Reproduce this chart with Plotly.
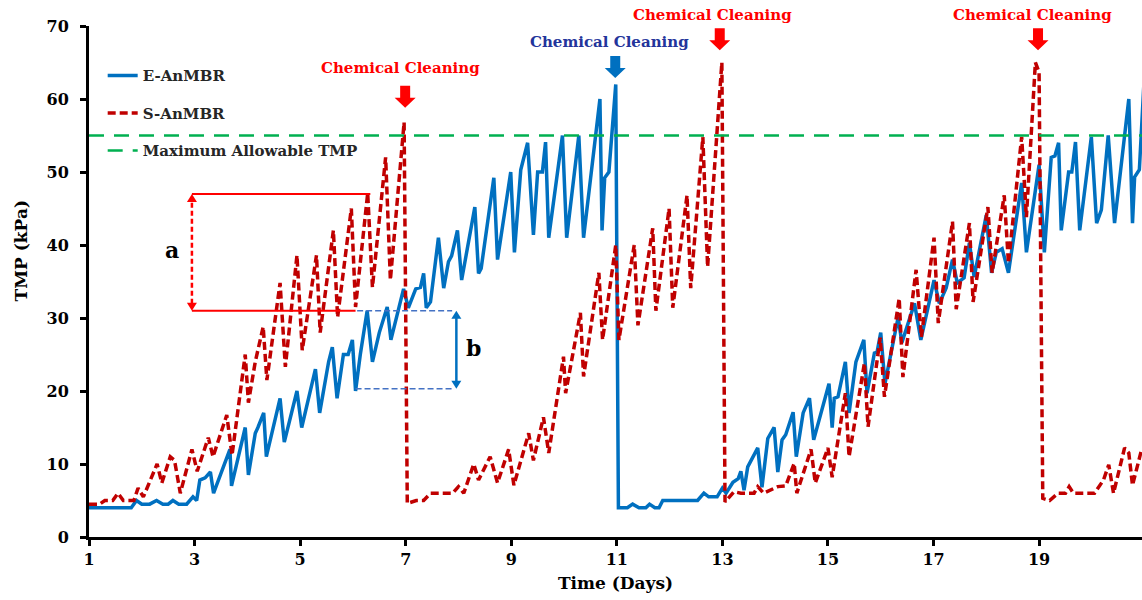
import plotly.graph_objects as go

# ---- TMP records (day, kPa) ----
e_days = [1.0, 1.8, 1.9, 2.0, 2.15, 2.28, 2.4, 2.5, 2.59, 2.7, 2.85, 2.97, 3.04, 3.1, 3.2, 3.3, 3.36,
          3.67, 3.7, 3.96, 4.02, 4.15, 4.2, 4.31, 4.36, 4.62, 4.7, 4.85, 4.94, 5.03, 5.29, 5.37, 5.54,
          5.61, 5.7, 5.82, 5.91, 5.99, 6.05, 6.14, 6.27, 6.37, 6.5, 6.65, 6.72, 6.96, 7.05, 7.19, 7.28,
          7.34, 7.39, 7.47, 7.62, 7.72, 7.81, 7.87, 7.98, 8.06, 8.31, 8.38, 8.43, 8.67, 8.74, 8.99, 9.06,
          9.18, 9.31, 9.42, 9.5, 9.59, 9.65, 9.71, 9.97, 10.05, 10.28, 10.37, 10.68, 10.72, 10.77, 10.85,
          10.98, 11.03, 11.2, 11.3, 11.42, 11.55, 11.62, 11.72, 11.8, 11.87, 12.53, 12.65, 12.74, 12.9,
          13.0, 13.07, 13.2, 13.3, 13.35, 13.41, 13.48, 13.67, 13.75, 13.86, 13.98, 14.05, 14.13, 14.2,
          14.34, 14.4, 14.53, 14.65, 14.73, 15.02, 15.08, 15.12, 15.19, 15.33, 15.4, 15.53, 15.68, 15.74,
          15.88, 15.93, 16.0, 16.08, 16.33, 16.4, 16.64, 16.76, 17.01, 17.11, 17.24, 17.36, 17.45, 17.58,
          17.68, 17.77, 18.0, 18.1, 18.19, 18.3, 18.42, 18.67, 18.76, 19.0, 19.1, 19.23, 19.3, 19.37,
          19.42, 19.56, 19.62, 19.69, 19.77, 19.99, 20.09, 20.18, 20.31, 20.43, 20.7, 20.77, 20.81, 20.9,
          21.0]
e_tmp = [4, 4, 5, 4.5, 4.5, 5, 4.5, 4.5, 5, 4.5, 4.5, 5.5, 5, 7.8, 8.1, 8.9, 6,
         12, 7, 15, 8.5, 14.2, 15, 17, 11, 19, 13, 17.5, 20, 15, 23, 17, 24,
         26, 19, 25, 25, 27, 20, 25, 31, 24, 28, 31.5, 27, 34, 31.4, 34, 34.2,
         36.1, 31.4, 32.2, 41, 34.1, 37.7, 38.5, 42, 35.2, 45.2, 36.1, 36.8, 49.2, 38, 50, 39,
         50.3, 54, 41.4, 50, 50, 54.1, 41, 55, 41, 55, 41, 60, 42, 49.2, 50,
         62, 4, 4, 4.5, 4, 4, 4.5, 4, 4, 5, 5, 6, 5.5, 5.5,
         6.7, 6, 7.5, 8, 9, 6.4, 9.6, 12.2, 6.8, 13.5, 15, 8.9, 13.3, 14,
         17.1, 11, 17, 19, 13.3, 21, 15, 19, 19.2, 24, 17, 24, 27, 19.7,
         25.2, 25.3, 28, 21, 30.1, 26.6, 32, 27, 35.2, 32, 34.1, 38, 34.8, 35.5,
         40.3, 35.6, 44.1, 36.2, 39, 39.5, 36.2, 48.5, 39, 51, 39, 52, 52.2, 54,
         42, 50, 50, 54.1, 42, 54.8, 43, 44.8, 55, 43, 60, 43, 49.3, 50.3,
         64]

s_days = [1.0, 1.2, 1.3, 1.45, 1.55, 1.65, 1.85, 1.93, 2.03, 2.29, 2.38, 2.54, 2.62, 2.73, 2.95, 3.05,
          3.26, 3.35, 3.61, 3.71, 3.96, 4.02, 4.15, 4.3, 4.37, 4.62, 4.72, 4.94, 5.04, 5.31, 5.38, 5.63,
          5.71, 5.97, 6.05, 6.28, 6.37, 6.62, 6.71, 6.97, 7.03, 7.2, 7.34, 7.47, 7.89, 8.0, 8.1, 8.29,
          8.38, 8.6, 8.74, 8.95, 9.05, 9.33, 9.42, 9.61, 9.71, 9.99, 10.03, 10.31, 10.37, 10.66, 10.73,
          10.98, 11.04, 11.33, 11.4, 11.68, 11.74, 11.99, 12.06, 12.33, 12.4, 12.63, 12.72, 12.99, 13.05,
          13.22, 13.35, 13.6, 13.67, 13.78, 14.05, 14.2, 14.36, 14.41, 14.68, 14.76, 15.0, 15.08, 15.33,
          15.4, 15.69, 15.76, 15.99, 16.07, 16.35, 16.42, 16.67, 16.77, 17.01, 17.09, 17.36, 17.43, 17.68,
          17.75, 18.03, 18.11, 18.34, 18.42, 18.67, 18.76, 18.93, 19.0, 19.07, 19.2, 19.36, 19.5, 19.57,
          19.65, 19.9, 20.05, 20.22, 20.32, 20.41, 20.62, 20.7, 20.77, 20.94]
s_tmp = [4.5, 4.5, 5, 5, 6, 5, 5, 6.7, 5.5, 10, 7.4, 11, 10.5, 6, 12, 9,
         13.6, 11, 16.7, 11.2, 25, 18.4, 24, 28.8, 21.5, 34.8, 23.3, 38.6, 25.6, 38.6, 28, 42,
         30.1, 45, 31.5, 47.1, 34.2, 52, 35.2, 56.8, 4.6, 5, 5, 6, 6, 6.9, 6, 10,
         7.8, 11, 7.4, 12, 7.1, 14.2, 10.5, 16.4, 11.5, 24.7, 19.7, 30.7, 22, 36.2, 27,
         40, 27, 40, 29, 42.3, 31, 45, 31.4, 46.8, 34.1, 54.8, 37, 65, 4.8,
         6.2, 6, 6, 6.9, 6, 6.9, 7, 10.1, 6, 12, 7.4, 12.2, 8.2, 19.7,
         11, 23.8, 15.1, 27.3, 19.2, 32.7, 21.9, 36.6, 27.4, 41, 29.3, 43.2, 31.2, 43,
         32.2, 45.2, 36.2, 46.8, 37.5, 54.8, 43.8, 65, 63.7, 5.3, 5, 6, 6, 6.9,
         6, 6, 6, 7.8, 9.9, 6, 12.2, 11.5, 7.1, 11.9]

max_tmp = 55
x_span = [1, 21]

x_ticks = [1, 3, 5, 7, 9, 11, 13, 15, 17, 19]
y_ticks = [0, 10, 20, 30, 40, 50, 60, 70]

# chemical cleaning events: (label colour, arrow colour, arrow day, text day, text level, arrow top level)
cleanings = [
    ("#ff0000", "#ff0000", 6.99, 6.91, 64.2, 61.8),
    ("#23349b", "#0070c0", 10.97, 10.87, 67.8, 65.9),
    ("#ff0000", "#ff0000", 12.95, 12.82, 71.5, 69.7),
    ("#ff0000", "#ff0000", 18.98, 18.87, 71.5, 69.7),
]

# ranges "a" (S-AnMBR) and "b" (E-AnMBR)
a_low, a_high = 31, 47
b_low, b_high = 20.3, 31

X_RANGE = [1, 20.95]
Y_RANGE = [0, 70]
W, H = 1142, 600
ML, MR, MT, MB = 89, 0, 26, 63
PX_X = (W - ML - MR) / (X_RANGE[1] - X_RANGE[0])   # pixels per day
PX_Y = (H - MT - MB) / (Y_RANGE[1] - Y_RANGE[0])   # pixels per kPa

FONT = "DejaVu Serif, Liberation Serif, Times New Roman, serif"

fig = go.Figure()

fig.add_trace(go.Scatter(
    x=e_days, y=e_tmp, mode="lines", name="<b>E-AnMBR</b>", legendgroup="e",
    line=dict(color="#0070c0", width=3.5),
))
fig.add_trace(go.Scatter(
    x=s_days, y=s_tmp, mode="lines", name="<b>S-AnMBR</b>", legendgroup="s",
    line=dict(color="#c00000", width=3.5, dash="8px,4px"),
))
fig.add_trace(go.Scatter(
    x=x_span, y=[max_tmp, max_tmp], mode="lines", name="<b>Maximum Allowable TMP</b>", legendgroup="m",
    line=dict(color="#00b050", width=2.5, dash="15px,10px"),
))


def dx(px):
    return px / PX_X


def dy(px):
    return px / PX_Y


def block_arrow(xc, y_top, color):
    sw, hw = dx(5), dx(10.5)
    y_head = y_top - dy(12)
    y_tip = y_top - dy(22)
    path = (f"M {xc - sw},{y_top} L {xc + sw},{y_top} L {xc + sw},{y_head} "
            f"L {xc + hw},{y_head} L {xc},{y_tip} L {xc - hw},{y_head} L {xc - sw},{y_head} Z")
    return dict(type="path", path=path, xref="x", yref="y", fillcolor=color,
                line=dict(width=0), layer="above")


def tri(xc, y_tip, up, color, size=5):
    # up=True: tip at the top, base below it
    h = dy(size * 1.6) * (1 if up else -1)
    w = dx(size)
    path = f"M {xc},{y_tip} L {xc - w},{y_tip - h} L {xc + w},{y_tip - h} Z"
    return dict(type="path", path=path, xref="x", yref="y", fillcolor=color,
                line=dict(width=0), layer="above")


shapes = []
annotations = []
for txt_col, arr_col, ax_day, tx_day, tx_lvl, top in cleanings:
    shapes.append(block_arrow(ax_day, top, arr_col))
    annotations.append(dict(x=tx_day, y=tx_lvl / Y_RANGE[1], xref="x", yref="paper",
                            xanchor="center", yanchor="middle",
                            text="<b>Chemical Cleaning</b>", showarrow=False,
                            font=dict(family=FONT, size=15, color=txt_col)))

# bracket "a"
a_x = 2.95
red = "#ff0000"
shapes += [
    dict(type="line", xref="x", yref="y", x0=a_x, x1=6.33, y0=a_high, y1=a_high, line=dict(color=red, width=2)),
    dict(type="line", xref="x", yref="y", x0=a_x, x1=6.05, y0=a_low, y1=a_low, line=dict(color=red, width=2)),
    dict(type="line", xref="x", yref="y", x0=a_x, x1=a_x, y0=a_low + dy(7), y1=a_high - dy(7),
         line=dict(color=red, width=2.5, dash="5px,3px")),
    tri(a_x, a_high, True, red),
    tri(a_x, a_low, False, red),
]
annotations.append(dict(x=2.57, y=39.3, xref="x", yref="y", text="<b>a</b>", showarrow=False,
                        font=dict(family=FONT, size=22, color="black")))

# bracket "b"
b_x = 7.96
blue_l = "#4472c4"
shapes += [
    dict(type="line", xref="x", yref="y", x0=6.08, x1=7.88, y0=b_high, y1=b_high,
         line=dict(color=blue_l, width=1.5, dash="6px,3px")),
    dict(type="line", xref="x", yref="y", x0=6.05, x1=7.88, y0=b_low, y1=b_low,
         line=dict(color=blue_l, width=1.5, dash="6px,3px")),
    dict(type="line", xref="x", yref="y", x0=b_x, x1=b_x, y0=b_low + dy(7), y1=b_high - dy(7),
         line=dict(color="#0070c0", width=2.5)),
    tri(b_x, b_high, True, "#0070c0"),
    tri(b_x, b_low, False, "#0070c0"),
]
annotations.append(dict(x=8.28, y=25.9, xref="x", yref="y", text="<b>b</b>", showarrow=False,
                        font=dict(family=FONT, size=22, color="black")))

# vertical axis title
annotations.append(dict(x=-0.065, y=0.56, xref="paper", yref="paper", text="<b>TMP (kPa)</b>",
                        xanchor="center", yanchor="middle",
                        textangle=-90, showarrow=False, font=dict(family=FONT, size=17, color="black")))

fig.update_layout(
    width=W, height=H,
    margin=dict(l=ML, r=MR, t=MT, b=MB),
    plot_bgcolor="white", paper_bgcolor="white",
    font=dict(family=FONT, size=16, color="black"),
    showlegend=True,
    legend=dict(x=0.013, y=0.935, xanchor="left", yanchor="top", bgcolor="rgba(0,0,0,0)",
                tracegroupgap=15, font=dict(family=FONT, size=15, color="#262626"),
                itemwidth=30),
    shapes=shapes,
    annotations=annotations,
)
fig.update_xaxes(
    range=X_RANGE, tickvals=x_ticks, ticktext=[f"<b>{v}</b>" for v in x_ticks],
    showline=True, linecolor="black", linewidth=3, ticks="outside", ticklen=6, tickwidth=2.5,
    tickcolor="black", showgrid=False, zeroline=False,
    title=dict(text="<b>Time (Days)</b>", font=dict(family=FONT, size=17), standoff=9),
    tickfont=dict(family=FONT, size=16),
)
fig.update_yaxes(
    range=Y_RANGE, tickvals=y_ticks, ticktext=[f"<b>{v}</b>" for v in y_ticks],
    showline=True, linecolor="black", linewidth=3, ticks="outside", ticklen=6, tickwidth=2.5,
    tickcolor="black", showgrid=False, zeroline=False, ticklabelstandoff=8,
    tickfont=dict(family=FONT, size=16),
)

fig.write_html("out.html")
